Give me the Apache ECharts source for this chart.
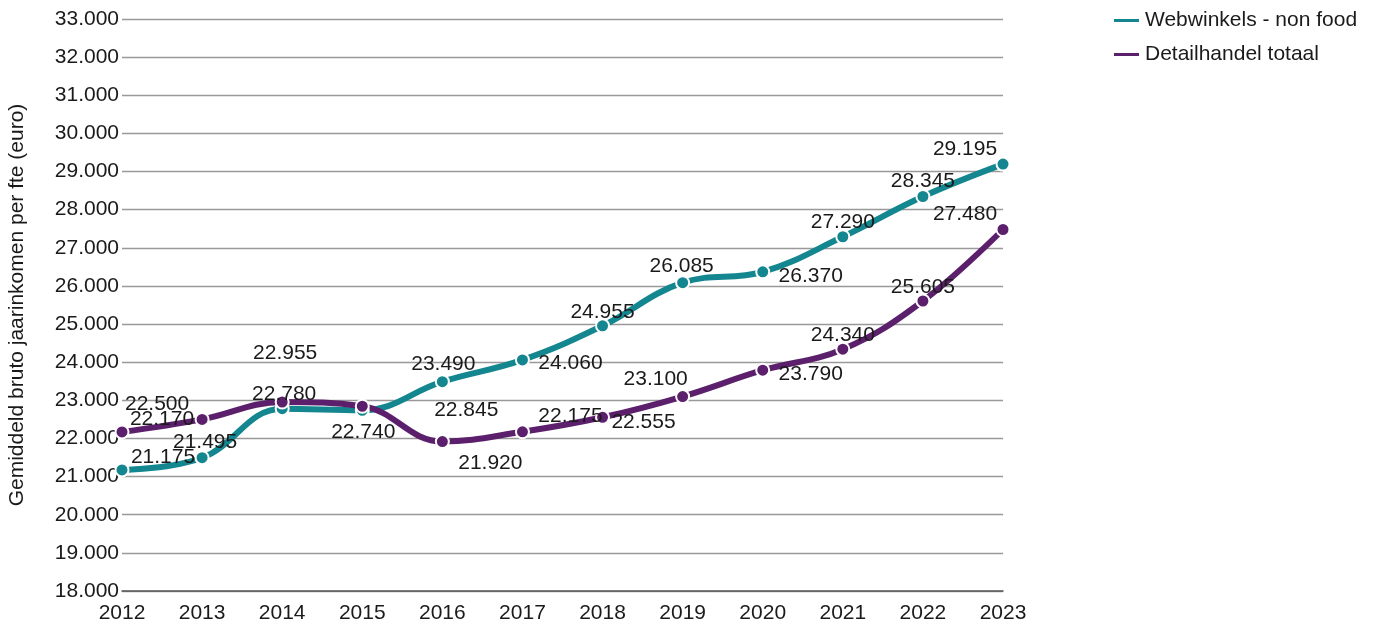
<!DOCTYPE html>
<html>
<head>
<meta charset="utf-8">
<script src="https://cdn.jsdelivr.net/npm/echarts@6/dist/echarts.min.js"></script>
<style>html,body{margin:0;padding:0;background:#fff}#c{width:1380px;height:632px}</style>
</head>
<body>
<div id="c"></div>
<script>
const years = ['2012','2013','2014','2015','2016','2017','2018','2019','2020','2021','2022','2023'];
const webwinkels = [21175, 21495, 22780, 22740, 23490, 24060, 24955, 26085, 26370, 27290, 28345, 29195];
const detailhandel = [22170, 22500, 22955, 22845, 21920, 22175, 22555, 23100, 23790, 24340, 25605, 27480];
const seriesNames = ['Webwinkels - non food', 'Detailhandel totaal'];
const yAxisName = 'Gemiddeld bruto jaarinkomen per fte (euro)';

// label placement (pixel offsets from the point), as in the reference
const webLabelOffsets = [[41,-13],[3,-16],[2,-15],[1,22],[1,-17],[48,3],[0,-14],[-1,-16],[48,4],[0,-15],[0,-15],[-38,-15]];
const detLabelOffsets = [[40,-13],[-45,-15],[3,-49],[104,4],[48,22],[48,-16],[41,5],[-27,-17],[48,4],[0,-14],[0,-14],[-38,-15]];

const fmt = v => String(v).replace(/\B(?=(\d{3})+(?!\d))/g, '.');
const FONT = 'Liberation Sans, Arial, sans-serif';
const FS = 21;
const TEAL = '#13868f';
const PURPLE = '#5c1f6c';

function build(values, offsets) {
  return values.map((v, i) => ({ value: v, label: { offset: offsets[i] } }));
}

function mkSeries(name, values, offsets, color) {
  return {
    name: name,
    type: 'line',
    smooth: 0.4,
    data: build(values, offsets),
    symbol: 'circle',
    symbolSize: 13,
    lineStyle: { width: 6, color: color },
    itemStyle: { color: color, borderColor: '#fff', borderWidth: 2 },
    label: {
      show: true,
      position: 'inside',
      formatter: p => fmt(p.value),
      color: '#1a1a1a',
      fontFamily: FONT,
      fontSize: FS
    },
    emphasis: { disabled: true },
    animation: false
  };
}

const chart = echarts.init(document.getElementById('c'));
chart.setOption({
  backgroundColor: '#fff',
  animation: false,
  grid: { left: 122, right: 377, top: 19, bottom: 41, containLabel: false, outerBoundsMode: 'none' },
  legend: {
    orient: 'vertical',
    left: 1107,
    top: 5,
    itemWidth: 27,
    itemHeight: 5,
    itemGap: 13,
    icon: 'rect',
    textStyle: { fontFamily: FONT, fontSize: FS, color: '#1a1a1a' },
    data: seriesNames
  },
  xAxis: {
    type: 'category',
    data: years,
    boundaryGap: false,
    axisLine: { show: true, lineStyle: { color: '#555', width: 1.5 } },
    axisTick: { show: false },
    axisLabel: { fontFamily: FONT, fontSize: FS, color: '#1a1a1a', margin: 12 },
    splitLine: { show: false }
  },
  yAxis: {
    type: 'value',
    min: 18000,
    max: 33000,
    interval: 1000,
    name: yAxisName,
    nameLocation: 'middle',
    nameGap: 94,
    nameRotate: 90,
    nameTextStyle: { fontFamily: FONT, fontSize: FS, color: '#1a1a1a' },
    axisLine: { show: false },
    axisTick: { show: false },
    axisLabel: { fontFamily: FONT, fontSize: FS, color: '#1a1a1a', margin: 3, formatter: v => fmt(v) },
    splitLine: { show: true, lineStyle: { color: '#999', width: 1.3 } }
  },
  series: [
    mkSeries(seriesNames[0], webwinkels, webLabelOffsets, TEAL),
    mkSeries(seriesNames[1], detailhandel, detLabelOffsets, PURPLE)
  ]
});
</script>
</body>
</html>
